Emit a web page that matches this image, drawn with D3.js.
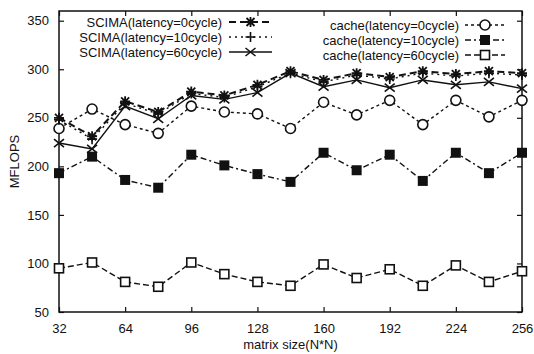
<!DOCTYPE html>
<html>
<head>
<meta charset="utf-8">
<script src="https://cdn.jsdelivr.net/npm/d3@7"></script>
<style>
  body { margin: 0; background: #fff; }
  text { font-family: "Liberation Sans", Arial, sans-serif; fill: #111; }
</style>
</head>
<body>
<div id="chart"></div>
<script>
// matrix sizes
const sizes = [32, 48, 64, 80, 96, 112, 128, 144, 160, 176, 192, 208, 224, 240, 256];
const xTicks = [32, 64, 96, 128, 160, 192, 224, 256];
const yTicks = [50, 100, 150, 200, 250, 300, 350];

const scima0 = [250, 231, 267, 256, 277, 273, 284, 298, 289, 296, 292, 298, 295, 298, 296];
const scima10 = [248, 228, 265, 254, 275, 271, 282, 296, 287, 294, 290, 296, 293, 296, 294];
const scima60 = [224, 218, 262, 249, 273, 269, 276, 296, 282, 289, 281, 289, 284, 287, 280];
const cache0 = [239, 259, 243, 234, 262, 256, 254, 239, 266, 253, 268, 243, 268, 251, 268];
const cache10 = [193, 210, 186, 178, 212, 201, 192, 184, 214, 196, 212, 185, 214, 193, 214];
const cache60 = [95, 101, 81, 76, 101, 89, 81, 77, 99, 85, 94, 77, 98, 81, 92];

const width = 534, height = 354;
const margin = {top: 11, right: 12, bottom: 42, left: 59};

const svg = d3.select("#chart").append("svg")
  .attr("width", width)
  .attr("height", height);

const x = d3.scaleLinear().domain([32, 256]).range([margin.left, width - margin.right]);
const y = d3.scaleLinear().domain([50, 360]).range([height - margin.bottom, margin.top]);

// axes, ticks pointing inwards on all four sides
const tickStyle = g => {
  g.select(".domain").remove();
  g.selectAll("line").attr("stroke", "#111").attr("stroke-width", 1.2);
  g.selectAll("text").attr("font-size", 13);
};
svg.append("g")
  .attr("transform", `translate(0,${y(50)})`)
  .call(d3.axisBottom(x).tickValues(xTicks).tickSizeInner(-5).tickPadding(12))
  .call(tickStyle);
svg.append("g")
  .attr("transform", `translate(0,${y(360)})`)
  .call(d3.axisTop(x).tickValues(xTicks).tickSizeInner(-5).tickFormat(""))
  .call(tickStyle);
svg.append("g")
  .attr("transform", `translate(${x(32)},0)`)
  .call(d3.axisLeft(y).tickValues(yTicks).tickSizeInner(-5).tickPadding(10))
  .call(tickStyle);
svg.append("g")
  .attr("transform", `translate(${x(256)},0)`)
  .call(d3.axisRight(y).tickValues(yTicks).tickSizeInner(-5).tickFormat(""))
  .call(tickStyle);

svg.append("rect")
  .attr("x", x(32)).attr("y", y(360))
  .attr("width", x(256) - x(32)).attr("height", y(50) - y(360))
  .attr("fill", "none").attr("stroke", "#111").attr("stroke-width", 1.5);

svg.append("text")
  .attr("x", (x(32) + x(256)) / 2).attr("y", height - 5)
  .attr("text-anchor", "middle").attr("font-size", 13)
  .text("matrix size(N*N)");
svg.append("text")
  .attr("transform", `translate(19,${(y(50) + y(360)) / 2}) rotate(-90)`)
  .attr("text-anchor", "middle").attr("font-size", 13)
  .text("MFLOPS");

// marker drawers
function marker(g, type) {
  const s = 5;
  if (type === "star") {
    g.append("path").attr("d", `M${-s},0H${s}M0,${-s}V${s}M${-s*0.8},${-s*0.8}L${s*0.8},${s*0.8}M${-s*0.8},${s*0.8}L${s*0.8},${-s*0.8}`)
      .attr("stroke", "#111").attr("stroke-width", 1.8);
  } else if (type === "plus") {
    g.append("path").attr("d", `M${-s},0H${s}M0,${-s}V${s}`)
      .attr("stroke", "#111").attr("stroke-width", 1.6);
  } else if (type === "cross") {
    g.append("path").attr("d", `M${-s},${-s*0.8}L${s},${s*0.8}M${-s},${s*0.8}L${s},${-s*0.8}`)
      .attr("stroke", "#111").attr("stroke-width", 1.6);
  } else if (type === "circle") {
    g.append("circle").attr("r", 5).attr("fill", "#fff").attr("stroke", "#111").attr("stroke-width", 1.6);
  } else if (type === "fsquare") {
    g.append("rect").attr("x", -5).attr("y", -5).attr("width", 10).attr("height", 10).attr("fill", "#111");
  } else if (type === "square") {
    g.append("rect").attr("x", -4.5).attr("y", -4.5).attr("width", 9).attr("height", 9)
      .attr("fill", "#fff").attr("stroke", "#111").attr("stroke-width", 1.6);
  }
}

const series = [
  {name: "cache(latency=60cycle)", values: cache60, dash: "6,3", mark: "square"},
  {name: "cache(latency=10cycle)", values: cache10, dash: "6,3,2,3", mark: "fsquare"},
  {name: "cache(latency=0cycle)", values: cache0, dash: "3,3", mark: "circle"},
  {name: "SCIMA(latency=60cycle)", values: scima60, dash: null, mark: "cross"},
  {name: "SCIMA(latency=10cycle)", values: scima10, dash: "2,4", mark: "plus"},
  {name: "SCIMA(latency=0cycle)", values: scima0, dash: "7,4", mark: "star"}
];

const line = d3.line().x((d, i) => x(sizes[i])).y(d => y(d));

series.forEach(s => {
  svg.append("path")
    .datum(s.values)
    .attr("fill", "none")
    .attr("stroke", "#111")
    .attr("stroke-width", s.mark === "star" ? 2 : 1.4)
    .attr("stroke-dasharray", s.dash)
    .attr("d", line);
  svg.append("g").selectAll("g")
    .data(s.values)
    .join("g")
    .attr("transform", (d, i) => `translate(${x(sizes[i])},${y(d)})`)
    .each(function() { marker(d3.select(this), s.mark); });
});

// legends (two keys)
function legend(items, textRight, x0, x1, y0) {
  items.forEach((s, i) => {
    const yy = y0 + i * 15;
    svg.append("text").attr("x", textRight).attr("y", yy + 4.5)
      .attr("text-anchor", "end").attr("font-size", 13).text(s.name);
    svg.append("line").attr("x1", x0).attr("x2", x1).attr("y1", yy).attr("y2", yy)
      .attr("stroke", "#111").attr("stroke-width", s.mark === "star" ? 2 : 1.4)
      .attr("stroke-dasharray", s.dash);
    marker(svg.append("g").attr("transform", `translate(${(x0 + x1) / 2},${yy})`), s.mark);
  });
}
legend([series[5], series[4], series[3]], 222, 229, 272, 22);
legend([series[2], series[1], series[0]], 459, 465, 505, 25);
</script>
</body>
</html>
